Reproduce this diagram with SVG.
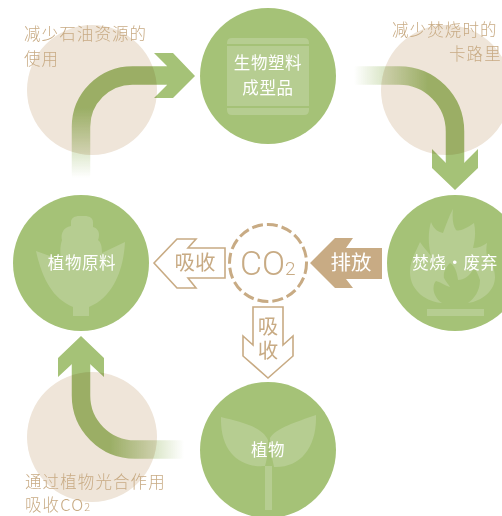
<svg xmlns="http://www.w3.org/2000/svg" width="502" height="516" viewBox="0 0 502 516">
<style>
text{font-family:"Noto Sans CJK SC","Noto Sans",sans-serif}
.g{fill:#a5c277}
.b{fill:#efe5d9}
.i{fill:#b6cd91}
.w{fill:#fff;font-size:16.500px;letter-spacing:.6px;text-anchor:middle}
.n{fill:#c8ab84;font-size:16.500px;letter-spacing:1.100px;font-weight:300}
.o{fill:#fff;stroke:#c8ab84;stroke-width:1.600}
.a{fill:#c8ab84;font-size:20.500px;text-anchor:middle}
.m{mix-blend-mode:multiply}
</style>
<defs>
<linearGradient id="g1" gradientUnits="userSpaceOnUse" x1="0" y1="178" x2="0" y2="108"><stop offset="0" stop-color="#a5c277" stop-opacity="0"/><stop offset="1" stop-color="#a5c277"/></linearGradient>
<linearGradient id="g2" gradientUnits="userSpaceOnUse" x1="354" y1="0" x2="428" y2="0"><stop offset="0" stop-color="#a5c277" stop-opacity="0"/><stop offset="1" stop-color="#a5c277"/></linearGradient>
<linearGradient id="g3" gradientUnits="userSpaceOnUse" x1="184" y1="0" x2="110" y2="0"><stop offset="0" stop-color="#a5c277" stop-opacity="0"/><stop offset="1" stop-color="#a5c277"/></linearGradient>
</defs>
<g id="benefit-oil"><circle class="b" cx="92" cy="90" r="65"/></g>
<g id="benefit-calorie"><circle class="b" cx="446" cy="90" r="65"/></g>
<g id="benefit-co2"><circle class="b" cx="92" cy="437" r="65"/></g>
<g id="connectors">
<g class="m">
<polygon class="g" points="154,53 173,53 195,76 173,98 154,98 167,85 167,66"/>
<path d="M81 178V127A51.500 51.500 0 0 1 132.500 75.500H167" fill="none" stroke="url(#g1)" stroke-width="18.500"/>
</g>
<g class="m">
<polygon class="g" points="432,149 446,163 464,163 478,149 478,168 455,190 432,168"/>
<path d="M354 75.500H399A56 56 0 0 1 455 131.500V163" fill="none" stroke="url(#g2)" stroke-width="18.500"/>
</g>
<g class="m">
<polygon class="g" points="81,336 104,358 104,377 90,364 72,364 58,377 58,358"/>
<path d="M184 449.500H135A54 54 0 0 1 81 395.500V364" fill="none" stroke="url(#g3)" stroke-width="18.500"/>
</g>
<polygon class="o" points="154,263 177,239 196,239 188,248 225,248 225,278 188,278 196,288 177,288"/>
<polygon fill="#c8ab84" points="310,263 335,238 353,238 346,248 382,248 382,279 346,279 353,288 335,288"/>
<polygon class="o" points="253,307 283,307 283,345 293,336 293,356 268,378 243,356 243,336 253,345"/>
<text class="a" x="195" y="270">吸收</text>
<text x="351" y="270" class="a" style="fill:#fff">排放</text>
<text x="268" y="316" style="fill:#c8ab84;font-size:20.500px;writing-mode:vertical-rl;letter-spacing:3.500px">吸收</text>
</g>
<g id="node-product">
<circle class="g" cx="268" cy="76" r="68"/>
<path class="i" d="M227 44V43Q227 38 232 38H304Q309 38 309 43V44ZM227 46H309V106H227ZM227 108H309V110Q309 115 304 115H232Q227 115 227 110Z"/>
<text class="w" x="268" y="69">生物塑料</text>
<text class="w" x="268" y="94">成型品</text>
</g>
<g id="node-burn">
<circle class="g" cx="455" cy="263" r="68"/>
<path class="i" d="M442 303C428 302 410 292 410 272C410 260 416 252 420 242C424 248 428 252 431 256C428 244 428 232 431 222C434 230 439 232 443 233C446 225 449 216 453 209C452 218 453 226 456 230C459 232 467 228 474 223C476 232 475 240 473 248C478 248 483 246 487 243C486 249 486 254 488 258C492 263 495 270 495 277C495 291 482 301 468 303C474 299 480 291 480 280C478 274 476 270 474 268C470 276 464 280 458 280C457 272 455 266 450 263C446 267 443 272 444 278C446 282 449 285 450 287C445 286 441 282 436 281C432 285 432 296 442 303Z"/>
<rect class="i" x="427" y="309" width="57" height="7"/>
<text class="w" x="455" y="269">焚烧・废弃</text>
</g>
<g id="node-raw">
<circle class="g" cx="81" cy="263" r="68"/>
<path class="i" d="M71 226V222C71 218 75 216 79 216H85C89 216 93 218 93 222V227C97 228 99 231 99 235C99 238 98 240 98 240C101 242 102 247 102 253L125 242C124 264 116 296 89 307V316H73V307C52 298 42 278 36 251L61 260C60 252 60 246 62 240C61 237 61 228 71 226Z"/>
<text class="w" x="82" y="269">植物原料</text>
</g>
<g id="node-plant">
<circle class="g" cx="268" cy="450" r="68"/>
<path class="i" d="M221 417C240 422 262 426 268 440C268 450 267 460 265 466C240 468 220 452 221 417ZM316 415C317 448 300 468 274 467C272 458 270 448 270 438C276 428 296 422 316 415ZM265 466H272V510H265Z"/>
<text class="w" x="268" y="456">植物</text>
</g>
<g id="node-co2">
<circle cx="268" cy="263" r="38.500" fill="none" stroke="#c8ab84" stroke-width="3" stroke-dasharray="11 4"/>
<text x="240" y="275" fill="#c8ab84" style="font-family:Roboto,sans-serif;font-weight:300;font-size:34px">CO<tspan font-size="19">2</tspan></text>
</g>
<g id="labels">
<text class="n" x="24" y="40">减少石油资源的</text>
<text class="n" x="24" y="65">使用</text>
<text class="n" x="392" y="36">减少焚烧时的</text>
<text class="n" x="449" y="60">卡路里</text>
<text class="n" x="25" y="488">通过植物光合作用</text>
<text class="n" x="25" y="511">吸收CO<tspan font-size="11">2</tspan></text>
</g>
</svg>
